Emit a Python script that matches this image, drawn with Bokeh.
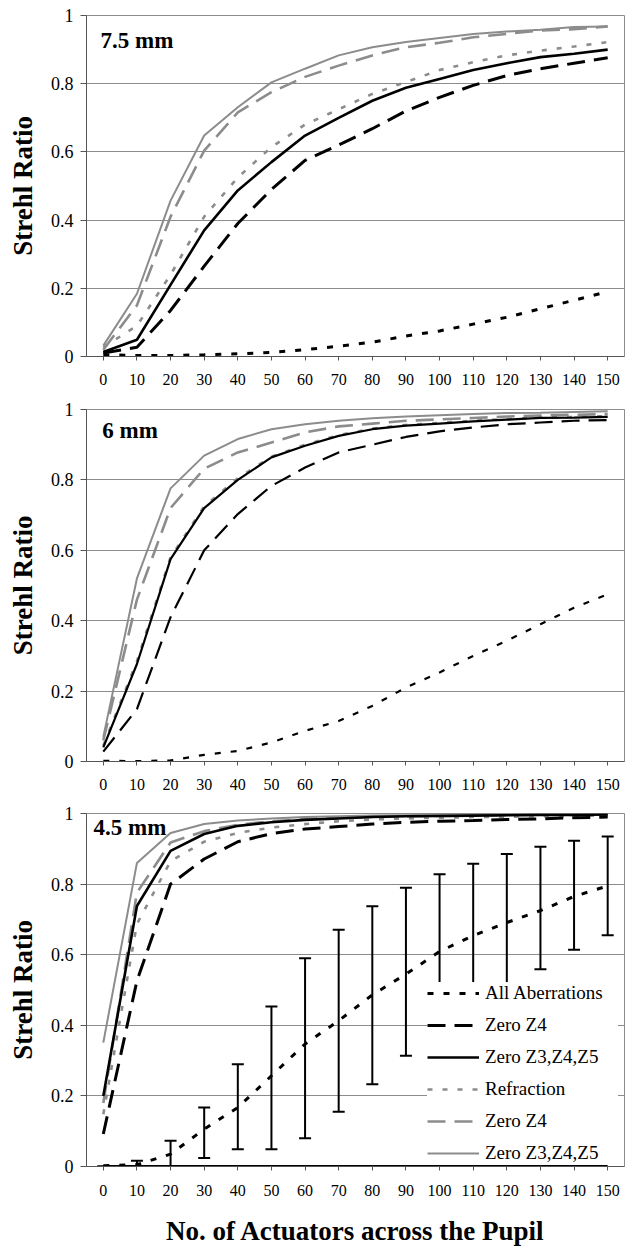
from bokeh.plotting import figure
from bokeh.models import (Range1d, FixedTicker, CustomJSTickFormatter, Label,
                          Legend, LegendItem)
from bokeh.layouts import column
from bokeh.embed import file_html
from bokeh.resources import INLINE

# ---------------- data ----------------
actuators = [0, 10, 20, 30, 40, 50, 60, 70, 80, 90, 100, 110, 120, 130, 140, 150]
x_ticks = [0, 10, 20, 30, 40, 50, 60, 70, 80, 90, 100, 110, 120, 130, 140, 150]
y_ticks = [0, 0.2, 0.4, 0.6, 0.8, 1.0]
panel_titles = ["7.5 mm", "6 mm", "4.5 mm"]
series_labels = ["All Aberrations", "Zero Z4", "Zero Z3,Z4,Z5",
                 "Refraction", "Zero Z4", "Zero Z3,Z4,Z5"]

# 7.5 mm pupil
p75_all = [0.005, 0.003, 0.003, 0.005, 0.008, 0.012, 0.02, 0.03, 0.042, 0.06, 0.075, 0.095, 0.115, 0.14, 0.165, 0.19]
p75_z4 = [0.01, 0.027, 0.135, 0.265, 0.39, 0.49, 0.575, 0.62, 0.668, 0.72, 0.76, 0.795, 0.824, 0.844, 0.86, 0.876]
p75_z345 = [0.013, 0.049, 0.21, 0.37, 0.487, 0.57, 0.648, 0.70, 0.75, 0.788, 0.814, 0.84, 0.86, 0.878, 0.888, 0.9]
p75_refr = [0.027, 0.09, 0.24, 0.41, 0.525, 0.614, 0.68, 0.725, 0.77, 0.805, 0.84, 0.863, 0.883, 0.897, 0.909, 0.922]
p75_z4g = [0.02, 0.15, 0.41, 0.604, 0.716, 0.775, 0.82, 0.853, 0.883, 0.907, 0.92, 0.936, 0.946, 0.956, 0.96, 0.968]
p75_z345g = [0.032, 0.184, 0.457, 0.648, 0.731, 0.804, 0.844, 0.883, 0.907, 0.922, 0.934, 0.946, 0.953, 0.958, 0.966, 0.968]

# 6 mm pupil
p6_all = [0.002, 0.001, 0.003, 0.019, 0.03, 0.054, 0.087, 0.115, 0.158, 0.21, 0.253, 0.3, 0.343, 0.39, 0.437, 0.475]
p6_z4 = [0.028, 0.149, 0.41, 0.6, 0.703, 0.783, 0.835, 0.878, 0.9, 0.922, 0.938, 0.949, 0.958, 0.963, 0.968, 0.97]
p6_z345 = [0.04, 0.277, 0.575, 0.72, 0.8, 0.864, 0.897, 0.925, 0.944, 0.954, 0.96, 0.966, 0.971, 0.976, 0.977, 0.979]
p6_refr = [0.045, 0.285, 0.58, 0.725, 0.805, 0.866, 0.9, 0.927, 0.946, 0.956, 0.962, 0.968, 0.973, 0.977, 0.979, 0.981]
p6_z4g = [0.06, 0.46, 0.72, 0.832, 0.878, 0.906, 0.935, 0.952, 0.96, 0.968, 0.972, 0.976, 0.98, 0.983, 0.985, 0.987]
p6_z345g = [0.07, 0.52, 0.776, 0.869, 0.916, 0.944, 0.958, 0.968, 0.975, 0.98, 0.984, 0.987, 0.99, 0.991, 0.993, 0.995]

# 4.5 mm pupil
p45_all = [0.002, 0.005, 0.035, 0.106, 0.167, 0.257, 0.347, 0.413, 0.486, 0.545, 0.609, 0.654, 0.691, 0.725, 0.765, 0.795]
p45_up = [0.0, 0.016, 0.073, 0.167, 0.29, 0.453, 0.59, 0.671, 0.737, 0.79, 0.828, 0.858, 0.885, 0.906, 0.923, 0.935]
p45_lo = [0.0, 0.0, 0.0, 0.024, 0.049, 0.049, 0.08, 0.155, 0.233, 0.314, 0.39, 0.45, 0.5, 0.559, 0.614, 0.655]
p45_base = [0, 0, 0, 0, 0, 0, 0, 0, 0, 0, 0, 0, 0, 0, 0, 0]
p45_z4 = [0.092, 0.526, 0.8, 0.871, 0.92, 0.943, 0.956, 0.963, 0.97, 0.975, 0.978, 0.98, 0.983, 0.985, 0.988, 0.99]
p45_z345 = [0.2, 0.738, 0.894, 0.942, 0.965, 0.975, 0.982, 0.986, 0.99, 0.992, 0.993, 0.994, 0.995, 0.996, 0.996, 0.997]
p45_refr = [0.148, 0.687, 0.865, 0.92, 0.945, 0.96, 0.97, 0.978, 0.983, 0.986, 0.988, 0.99, 0.991, 0.992, 0.993, 0.994]
p45_z4g = [0.18, 0.776, 0.918, 0.95, 0.968, 0.978, 0.984, 0.988, 0.99, 0.992, 0.993, 0.994, 0.995, 0.996, 0.996, 0.997]
p45_z345g = [0.351, 0.86, 0.945, 0.97, 0.98, 0.986, 0.99, 0.992, 0.994, 0.995, 0.996, 0.997, 0.997, 0.998, 0.998, 0.998]

# ---------------- styling ----------------
SERIF = "Liberation Serif"
GRAY = "#8c8c8c"
BLACK = "#000000"

STYLES = [
    dict(line_color=BLACK, line_width=3.0, line_dash="6 10"),    # All aberrations
    dict(line_color=BLACK, line_width=3.0, line_dash="18 9"),    # Zero Z4
    dict(line_color=BLACK, line_width=2.6, line_dash="solid"),   # Zero Z3,Z4,Z5
    dict(line_color=GRAY, line_width=2.6, line_dash="5 10"),     # Refraction
    dict(line_color=GRAY, line_width=2.6, line_dash="18 9"),     # Zero Z4 (gray)
    dict(line_color=GRAY, line_width=2.0, line_dash="solid"),    # Zero Z3,Z4,Z5 (gray)
]


def make_panel(height, bl, br, bt, bb, title, title_x, title_y, series, show_xlabel, black_w=None):
    p = figure(width=638, height=height, output_backend="svg", toolbar_location=None,
               title=None, x_range=Range1d(-5, 155), y_range=Range1d(0, 1),
               min_border_left=bl, min_border_right=br, min_border_top=bt,
               min_border_bottom=bb, background_fill_color="white",
               border_fill_color="white")
    p.outline_line_color = GRAY
    p.outline_line_width = 1
    p.xgrid.visible = False
    p.ygrid.grid_line_color = GRAY
    p.ygrid.grid_line_width = 1

    p.xaxis.ticker = FixedTicker(ticks=x_ticks)
    p.yaxis.ticker = FixedTicker(ticks=y_ticks)
    p.yaxis.formatter = CustomJSTickFormatter(code="return String(Math.round(tick*10)/10);")
    for ax in (p.xaxis, p.yaxis):
        ax.axis_line_color = "#555555"
        ax.axis_line_width = 1
        ax.major_tick_line_color = "#555555"
        ax.major_tick_in = 0
        ax.minor_tick_line_color = None
        ax.major_label_text_font = SERIF
        ax.major_label_text_color = BLACK
    p.xaxis.major_tick_out = 4
    p.yaxis.major_tick_out = 6
    p.xaxis.major_label_text_font_size = "16px"
    p.yaxis.major_label_text_font_size = "18px"
    p.xaxis.major_label_standoff = 13
    p.yaxis.major_label_standoff = 7

    p.yaxis.axis_label = "Strehl Ratio"
    p.yaxis.axis_label_text_font = SERIF
    p.yaxis.axis_label_text_font_style = "bold"
    p.yaxis.axis_label_text_font_size = "27px"
    p.yaxis.axis_label_text_color = BLACK
    p.yaxis.axis_label_standoff = 10
    if show_xlabel:
        p.xaxis.axis_label = "No. of Actuators across the Pupil"
        p.xaxis.axis_label_text_font = SERIF
        p.xaxis.axis_label_text_font_style = "bold"
        p.xaxis.axis_label_text_font_size = "27px"
        p.xaxis.axis_label_text_color = BLACK
        p.xaxis.axis_label_standoff = 17
        p.xaxis.major_label_standoff = 14

    order = [5, 4, 3, 2, 1, 0]
    rmap = {}
    for i in order:
        st = dict(STYLES[i])
        if black_w is not None and st["line_color"] == BLACK:
            st["line_width"] = black_w
        rmap[i] = p.line(actuators, series[i], **st)
    renderers = [rmap[i] for i in range(6)]

    p.add_layout(Label(x=title_x, y=title_y, text=title, text_font=SERIF,
                       text_font_style="bold", text_font_size="23px",
                       text_baseline="middle", text_color=BLACK))
    return p, renderers


p1, _ = make_panel(398, 86, 14, 15, 42, panel_titles[0], -0.8, 0.927,
                   [p75_all, p75_z4, p75_z345, p75_refr, p75_z4g, p75_z345g], False)
p2, _ = make_panel(405, 82, 14, 11, 42, panel_titles[1], -0.3, 0.94,
                   [p6_all, p6_z4, p6_z345, p6_refr, p6_z4g, p6_z345g], False, black_w=2.2)
p3, r3 = make_panel(449, 80, 8, 10, 86, panel_titles[2], -2.9, 0.96,
                    [p45_all, p45_z4, p45_z345, p45_refr, p45_z4g, p45_z345g], True)

# error bars and zero line in 4.5 mm panel
p3.line(actuators, p45_base, line_color=BLACK, line_width=3)
p3.segment(x0=actuators, y0=p45_lo, x1=actuators, y1=p45_up, line_color=BLACK, line_width=2)
p3.scatter(actuators, p45_up, marker="dash", size=12, line_color=BLACK, line_width=2)
p3.scatter(actuators, p45_lo, marker="dash", size=12, line_color=BLACK, line_width=2)

legend = Legend(items=[LegendItem(label=series_labels[i], renderers=[r3[i]]) for i in range(6)],
                location=(341, 2), background_fill_color="white", background_fill_alpha=1.0,
                border_line_color=None, padding=7, margin=0, spacing=10,
                glyph_width=52, glyph_height=20, label_height=20, label_width=133,
                label_standoff=6, label_text_font=SERIF, label_text_font_size="19px",
                label_text_color=BLACK)
p3.add_layout(legend)

layout = column(p1, p2, p3)
open("out.html", "w").write(file_html(layout, INLINE))
